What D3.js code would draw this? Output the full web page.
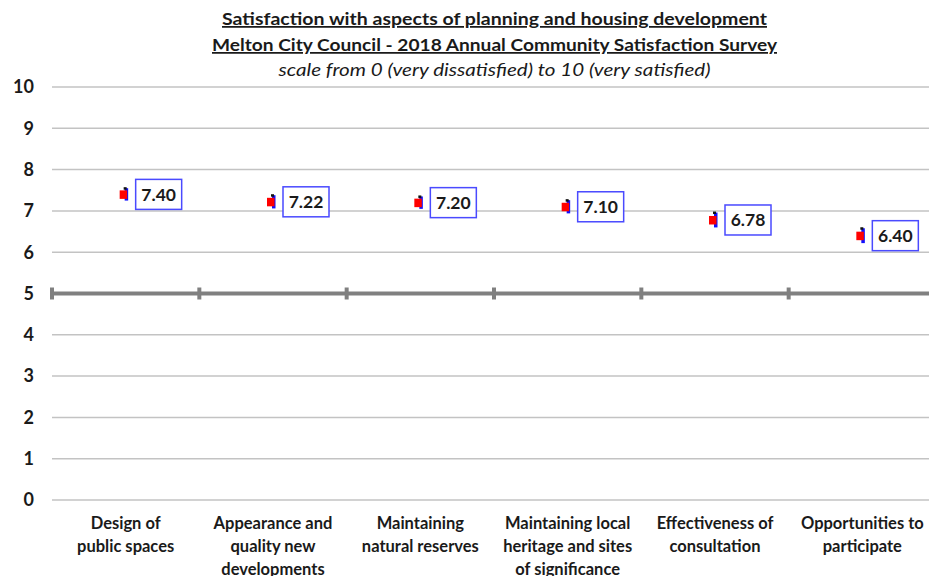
<!DOCTYPE html>
<html><head><meta charset="utf-8">
<script src="https://cdn.jsdelivr.net/npm/d3@7"></script>
<style>body{margin:0;background:#fff}svg{display:block}</style>
</head><body>
<svg id="c" width="929" height="576"></svg>
<script>
const categories = [
  ["Design of","public spaces"],
  ["Appearance and","quality new","developments"],
  ["Maintaining","natural reserves"],
  ["Maintaining local","heritage and sites","of significance"],
  ["Effectiveness of","consultation"],
  ["Opportunities to","participate"]
];
const means = [7.40, 7.22, 7.20, 7.10, 6.78, 6.40];
const lower = [7.25, 7.06, 7.05, 6.94, 6.60, 6.22];
const upper = [7.55, 7.38, 7.35, 7.26, 6.96, 6.58];
const yTicks = [0,1,2,3,4,5,6,7,8,9,10];
const titleLines = [
  "Satisfaction  with aspects of planning and housing development",
  "Melton City Council  - 2018 Annual Community Satisfaction Survey"
];
const subtitle = "scale from 0 (very dissatisfied) to 10 (very satisfied)";

const svg = d3.select("#c");
const font = "Lato, 'Open Sans', sans-serif";
const keys = categories.map((c,i)=>i);
const x = d3.scaleBand().domain(keys).range([52, 936]);
const y = d3.scaleLinear().domain([0,10]).range([500, 87]);

// gridlines
svg.append("g").selectAll("line").data(yTicks.filter(d=>d!==5)).join("line")
  .attr("x1",52).attr("x2",936).attr("y1",d=>y(d)).attr("y2",d=>y(d))
  .attr("stroke","#c3c3c3").attr("stroke-width",1.5);

// y labels
svg.append("g").selectAll("text").data(yTicks).join("text")
  .attr("x",34).attr("y",d=>y(d)).attr("dy","0.35em").attr("text-anchor","end")
  .attr("font-family",font).attr("font-weight","bold").attr("font-size",18).attr("fill","#1a1a1a")
  .text(d=>d);

// x axis at 5
const ax = svg.append("g");
ax.append("line").attr("x1",52).attr("x2",936).attr("y1",y(5)).attr("y2",y(5))
  .attr("stroke","#808080").attr("stroke-width",4);
ax.selectAll("line.t").data(keys).join("line").attr("class","t")
  .attr("x1",d=>x(d)).attr("x2",d=>x(d)).attr("y1",y(5)-6).attr("y2",y(5)+6)
  .attr("stroke","#808080").attr("stroke-width",4);

// category labels
const cl = svg.append("g").selectAll("text").data(categories).join("text")
  .attr("x",(d,i)=>x(i)+x.bandwidth()/2).attr("y",523).attr("text-anchor","middle")
  .attr("font-family",font).attr("font-weight","bold").attr("font-size",16.5).attr("fill","#1a1a1a");
cl.each(function(lines){
  d3.select(this).selectAll("tspan").data(lines).join("tspan")
    .attr("x",d3.select(this).attr("x")).attr("dy",(d,j)=>j===0?"0.35em":"23px").text(d=>d);
});

// markers
const mk = svg.append("g");
keys.forEach(i=>{
  const cx = x(i)+x.bandwidth()/2 - 2;
  mk.append("rect").attr("x",cx+1).attr("width",3.5)
    .attr("y",y(upper[i])).attr("height",y(lower[i])-y(upper[i])).attr("fill","#1010ff");
  mk.append("rect").attr("x",cx-4).attr("width",7.5).attr("y",y(means[i])-4).attr("height",8.5).attr("fill","#ff0000");
  mk.append("rect").attr("x",cx).attr("width",3).attr("y",y(upper[i])-1).attr("height",2.5).attr("fill","#111");
  // label box
  const bx = cx+12, bw=46, bh=30;
  mk.append("rect").attr("x",bx).attr("y",y(means[i])-bh/2).attr("width",bw).attr("height",bh)
    .attr("fill","#fff").attr("stroke","#4a4aff").attr("stroke-width",1.5);
  mk.append("text").attr("x",bx+bw/2).attr("y",y(means[i])).attr("dy","0.35em").attr("text-anchor","middle")
    .attr("font-family",font).attr("font-weight","bold").attr("font-size",17.5).attr("fill","#1a1a1a")
    .text(d3.format(".2f")(means[i]));
});

// titles
const tw = [545, 565];
titleLines.forEach((t,i)=>{
  svg.append("text").attr("x",494.5).attr("y",[25,51][i]).attr("text-anchor","middle")
    .attr("font-family",font).attr("font-weight","bold").attr("font-size",17.5).attr("fill","#1a1a1a")
    .attr("text-decoration","underline")
    .attr("textLength",tw[i]).attr("lengthAdjust","spacingAndGlyphs").text(t);
});
svg.append("text").attr("x",494.5).attr("y",76).attr("text-anchor","middle")
  .attr("font-family",font).attr("font-style","italic").attr("font-size",17).attr("fill","#1a1a1a")
  .attr("textLength",432).attr("lengthAdjust","spacingAndGlyphs").text(subtitle);
</script>
</body></html>
